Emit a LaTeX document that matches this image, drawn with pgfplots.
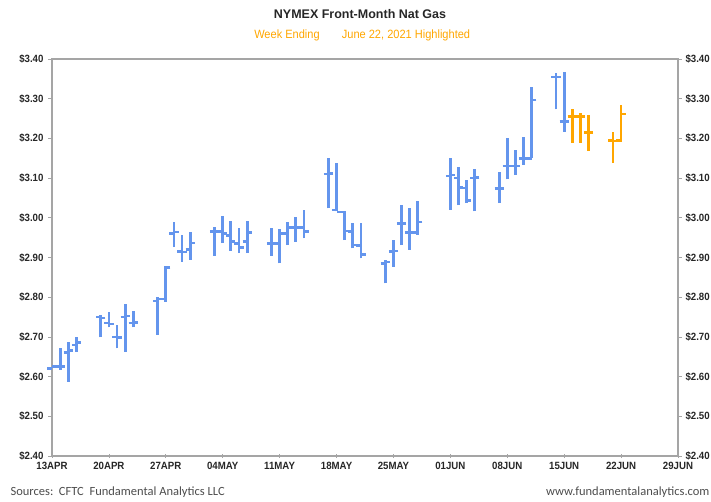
\documentclass[border=0pt]{standalone}
\usepackage{pgfplots}
\pgfplotsset{compat=1.18}
\usepackage{pgfplotstable}
\usepackage{fontspec}
\setmainfont{Liberation Sans}
\newfontfamily\narrow[FakeStretch=0.92]{Liberation Sans}
\newfontfamily\carl{Carlito}
\definecolor{barblue}{RGB}{100,149,237}
\definecolor{barorange}{RGB}{255,166,0}
\definecolor{axgray}{RGB}{165,165,165}
\pgfdeclareplotmark{otick}{\pgfpathmoveto{\pgfqpoint{-\pgfplotmarksize}{0pt}}\pgfpathlineto{\pgfqpoint{0pt}{0pt}}\pgfusepathqstroke}
\pgfdeclareplotmark{ctick}{\pgfpathmoveto{\pgfqpoint{\pgfplotmarksize}{0pt}}\pgfpathlineto{\pgfqpoint{0pt}{0pt}}\pgfusepathqstroke}

\pgfplotstableread{
x o h l c
0 2.620 2.646 2.533 2.625
1 2.625 2.671 2.617 2.625
2 2.660 2.688 2.587 2.665
3 2.680 2.700 2.663 2.686
6 2.750 2.755 2.699 2.748
7 2.735 2.763 2.724 2.732
8 2.700 2.730 2.671 2.698
9 2.750 2.783 2.663 2.753
10 2.735 2.766 2.724 2.736
13 2.790 2.801 2.705 2.795
14 2.795 2.879 2.789 2.875
15 2.960 2.989 2.926 2.964
16 2.915 2.957 2.889 2.914
17 2.920 2.965 2.894 2.937
20 2.965 2.978 2.904 2.966
21 2.966 3.005 2.936 2.960
22 2.955 2.993 2.917 2.940
23 2.935 2.974 2.911 2.925
24 2.940 2.993 2.911 2.963
27 2.935 2.974 2.904 2.936
28 2.936 2.971 2.885 2.961
29 2.960 2.990 2.931 2.976
30 2.975 3.003 2.940 2.976
31 2.975 3.020 2.948 2.965
34 3.110 3.150 3.024 3.112
35 3.020 3.137 3.016 3.015
36 3.015 3.016 2.944 2.967
37 2.965 2.986 2.923 2.931
38 2.930 2.986 2.898 2.908
41 2.885 2.894 2.835 2.889
42 2.915 2.944 2.877 2.916
43 2.985 3.031 2.931 2.986
44 2.963 3.025 2.919 2.963
45 2.963 3.042 2.957 2.989
49 3.105 3.150 3.020 3.108
50 3.100 3.129 3.032 3.077
51 3.075 3.095 3.037 3.043
52 3.100 3.122 3.016 3.101
55 3.074 3.116 3.037 3.074
56 3.130 3.200 3.097 3.130
57 3.130 3.171 3.108 3.130
58 3.150 3.203 3.133 3.150
59 3.150 3.330 3.150 3.297
62 3.355 3.364 3.273 3.355
63 3.242 3.368 3.217 3.242
}\bluedata

\pgfplotstableread{
x o h l c
64 3.255 3.273 3.189 3.255
65 3.255 3.263 3.189 3.255
66 3.215 3.259 3.169 3.215
69 3.195 3.217 3.139 3.193
70 3.195 3.284 3.192 3.261
}\orangedata

\pgfplotsset{
  ohlcframe/.style={
    scale only axis, width=626pt, height=397pt,
    xmin=0, xmax=77, ymin=2.4, ymax=3.4,
    ytick={2.4,2.5,2.6,2.7,2.8,2.9,3.0,3.1,3.2,3.3,3.4},
    yticklabels={\$2.40,\$2.50,\$2.60,\$2.70,\$2.80,\$2.90,\$3.00,\$3.10,\$3.20,\$3.30,\$3.40},
    tick label style={font=\narrow\bfseries\fontsize{10.5}{12}\selectfont, text=black!85},
    major tick length=4pt,
    tick style={axgray, line width=0.8pt},
  },
  hl/.style={draw=none, mark=none, forget plot,
    error bars/.cd, y dir=plus, y explicit, error mark=none,
    error bar style={draw=#1, line width=2.8pt}},
  tk/.style={only marks, mark size=4.6pt, draw=#1, line width=2.6pt, mark options={solid, line width=2.6pt}},
}

\begin{document}
\begin{tikzpicture}
\useasboundingbox (-52pt,-45pt) rectangle (659pt,456pt);
\begin{axis}[ohlcframe,
    at={(0,0)}, anchor=south west,
    xtick={0,7,14,21,28,35,42,49,56,63,70,77},
    xticklabels={13APR,20APR,27APR,04MAY,11MAY,18MAY,25MAY,01JUN,08JUN,15JUN,22JUN,29JUN},
    xtick pos=lower, ytick pos=left,
    xtick align=center, ytick align=outside,
    axis line style={axgray, line width=1.1pt},
    yticklabel style={xshift=-1pt},
    xticklabel style={yshift=-1pt},
]
\addplot[hl=barblue] table[x=x, y=l, y error expr=\thisrow{h}-\thisrow{l}] {\bluedata};
\addplot[tk=barblue, mark=otick] table[x=x, y=o] {\bluedata};
\addplot[tk=barblue, mark=ctick] table[x=x, y=c] {\bluedata};
\addplot[hl=barorange] table[x=x, y=l, y error expr=\thisrow{h}-\thisrow{l}] {\orangedata};
\addplot[tk=barorange, mark=otick] table[x=x, y=o] {\orangedata};
\addplot[tk=barorange, mark=ctick] table[x=x, y=c] {\orangedata};
\draw[axgray, line width=2.6pt] (rel axis cs:0,0) -- (rel axis cs:0,1);
\draw[axgray, line width=2.4pt] (rel axis cs:0,0) -- (rel axis cs:1,0);
\end{axis}
\begin{axis}[ohlcframe,
    at={(0,0)}, anchor=south west,
    axis x line=none, axis y line*=right,
    ytick align=outside,
    axis line style={axgray, line width=1.1pt},
]
\end{axis}
\node[font=\bfseries\fontsize{12.5}{14}\selectfont, text=black!85] at (308pt,442pt) {NYMEX Front-Month Nat Gas};
\node[font=\narrow\fontsize{12}{14}\selectfont, text=barorange] at (235pt,421pt) {Week Ending};
\node[font=\narrow\fontsize{12}{14}\selectfont, text=barorange] at (354pt,421pt) {June 22, 2021 Highlighted};
\node[font=\carl\fontsize{12.5}{14}\selectfont, text=black!70, anchor=west] at (-45pt,-36pt) {Sources:\ \ CFTC\ \ Fundamental Analytics LLC};
\node[font=\carl\fontsize{12.5}{14}\selectfont, text=black!70, anchor=east] at (661pt,-36pt) {www.fundamentalanalytics.com};
\end{tikzpicture}
\end{document}
